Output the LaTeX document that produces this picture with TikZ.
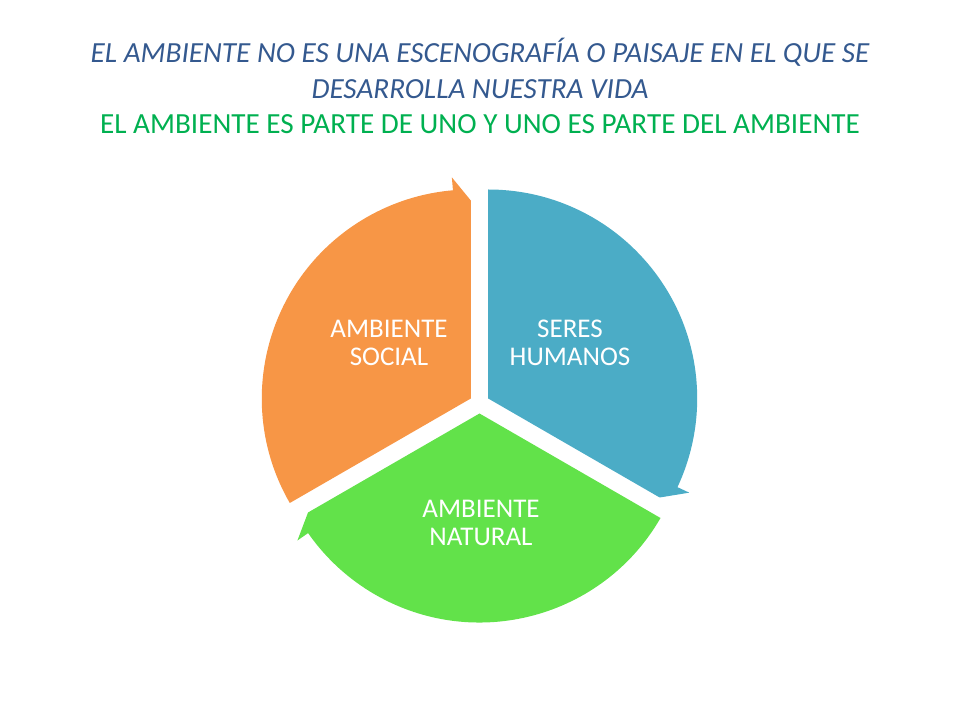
\documentclass[tikz,border=0pt]{standalone}
\usepackage{fontspec}
\setmainfont{Carlito}
\definecolor{titleblue}{HTML}{34598F}
\definecolor{titlegreen}{HTML}{00B050}
\definecolor{segorange}{HTML}{F79646}
\definecolor{segblue}{HTML}{4BACC6}
\definecolor{seggreen}{HTML}{62E24A}
\tikzset{
  titleA/.style={text=titleblue, font=\fontsize{29.2}{33}\selectfont\itshape, anchor=base, inner sep=0pt},
  titleB/.style={text=titlegreen, font=\fontsize{29.2}{33}\selectfont, anchor=base, inner sep=0pt},
  seglabel/.style={text=white, font=\fontsize{27}{28.5}\selectfont, align=center, inner sep=0pt},
}
\newcommand{\segarrow}[4]{% center, start angle, end angle, colour
  \begin{scope}[shift={#1}]
    \fill[#4] (0,0) -- (#2:209pt) arc[start angle=#2, end angle=#3+4.9, radius=209pt]
      -- (#3+4.9:222pt) -- (#3:198pt) -- cycle;
  \end{scope}}
\begin{document}
\begin{tikzpicture}[x=1pt,y=1pt]
\useasboundingbox (0,0) rectangle (960,720);
\node[titleA] (t1) at (480,657) {EL AMBIENTE NO ES UNA ESCENOGRAFÍA O PAISAJE EN EL QUE SE};
\node[titleA] (t2) at (480,621) {DESARROLLA NUESTRA VIDA};
\node[titleB] (t3) at (480,586) {EL AMBIENTE ES PARTE DE UNO Y UNO ES PARTE DEL AMBIENTE};
\segarrow{(470.8,321.5)}{210}{90}{segorange}
\segarrow{(488.2,321.5)}{90}{-30}{segblue}
\segarrow{(479.5,306.5)}{-30}{-150}{seggreen}
\node[seglabel] (social) at (389,377) {AMBIENTE\\SOCIAL};
\node[seglabel] (humanos) at (570,377) {SERES\\HUMANOS};
\node[seglabel] (natural) at (481,197) {AMBIENTE\\NATURAL};
\end{tikzpicture}
\end{document}
